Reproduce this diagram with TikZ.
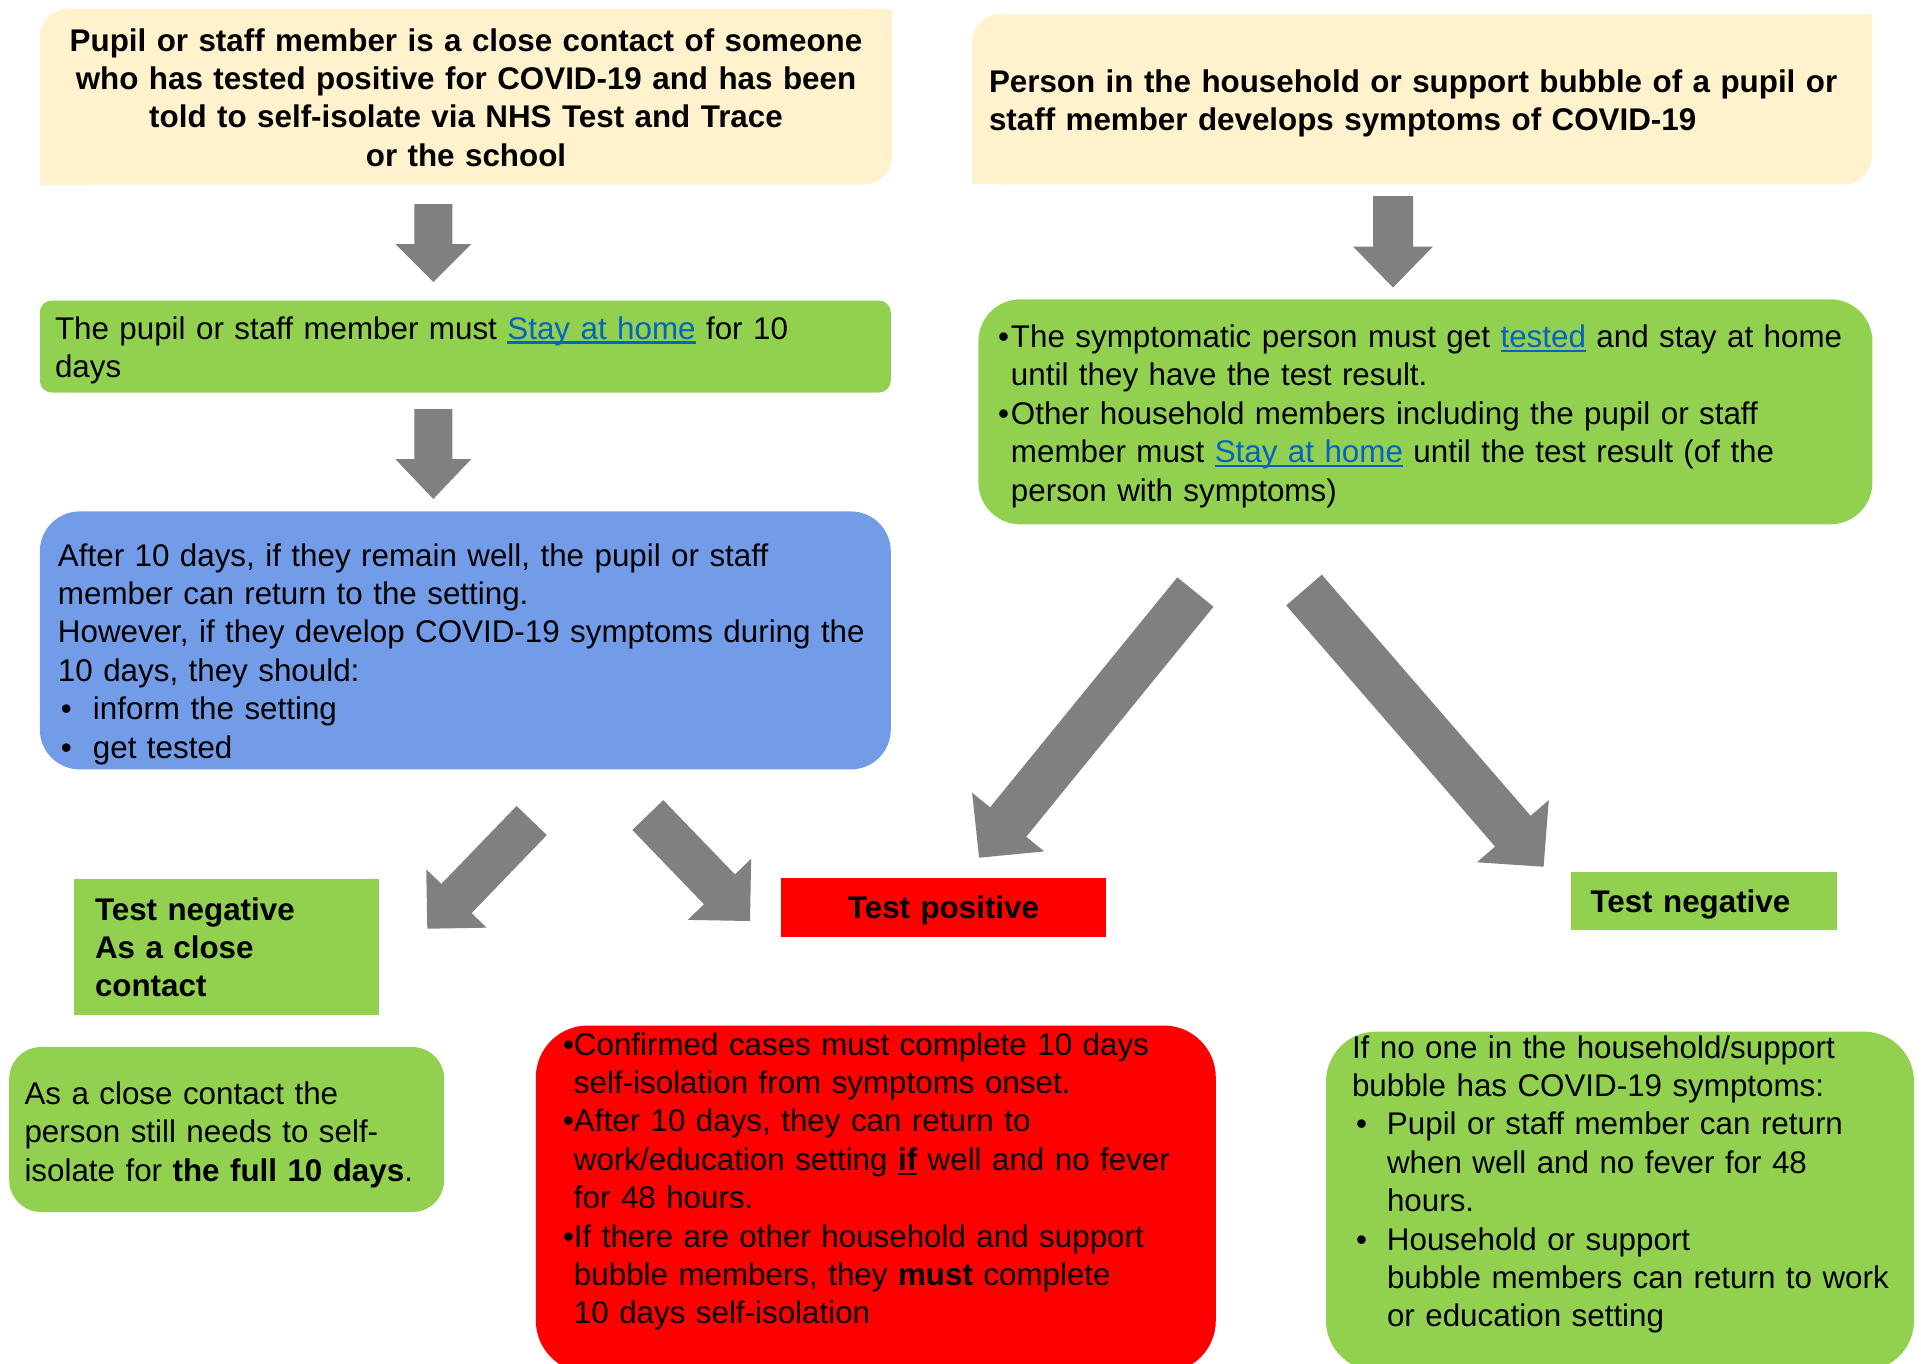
\documentclass[tikz,border=0pt]{standalone}
\usepackage{fontspec}
\setmainfont{Liberation Sans}
\usetikzlibrary{calc}
\definecolor{cream}{RGB}{255,242,204}
\definecolor{leafgreen}{RGB}{146,208,80}
\definecolor{skyblue}{RGB}{114,155,232}
\definecolor{alertred}{RGB}{255,0,0}
\definecolor{arrowgray}{RGB}{128,128,128}
\definecolor{linkblue}{RGB}{5,99,193}
\newcommand{\ulword}[1]{\setbox0=\hbox{#1}\rlap{\rule[-0.45mm]{\wd0}{0.22mm}}\box0}
\newcommand{\weblink}[1]{{\color{linkblue}\ulword{#1}}}
\newcommand{\blockarrow}[5]{%
  \fill[arrowgray] let \p1=($(#2)-(#1)$), \n1={atan2(\y1,\x1)} in
    ($(#1)+({\n1+90}:#3)$) -- ($(#2)+({\n1}:-#5)+({\n1+90}:#3)$)
    -- ($(#2)+({\n1}:-#5)+({\n1+90}:#4)$) -- (#2)
    -- ($(#2)+({\n1}:-#5)+({\n1-90}:#4)$) -- ($(#2)+({\n1}:-#5)+({\n1-90}:#3)$)
    -- ($(#1)+({\n1-90}:#3)$) -- cycle;}

\begin{document}
\begin{tikzpicture}[x=0.1mm,y=-0.1mm]
\tikzstyle{every node}+=[inner sep=0pt, outer sep=0pt]
\tikzstyle{panel}=[anchor=north west, rectangle]
\tikzstyle{txt}=[anchor=base west, text width=100mm, align=left, font=\fontsize{8.92}{10.93}\selectfont]
\tikzstyle{boldtxt}=[txt, font=\fontsize{8.92}{10.93}\selectfont\bfseries]
\clip (0,0) rectangle (1921,1363);
\fill[white] (0,0) rectangle (1921,1363);
\draw (40,8.5) node[panel, fill=cream, rounded corners=2.8mm, minimum width=85.2mm, minimum height=17.6mm] (contactbox) {};
\fill[cream] (contactbox.north east) rectangle ++(-50,50);
\fill[cream] (contactbox.south west) rectangle ++(50,-50);
\draw (972,14.3) node[panel, fill=cream, rounded corners=2.8mm, minimum width=90mm, minimum height=17mm] (householdbox) {};
\fill[cream] (householdbox.north east) rectangle ++(-50,50);
\fill[cream] (householdbox.south west) rectangle ++(50,-50);
\draw (39.8,300.5) node[panel, fill=leafgreen, rounded corners=1.2mm, minimum width=85.1mm, minimum height=9.2mm] (stayhomebox) {};
\draw (39.8,511.4) node[panel, fill=skyblue, rounded corners=4mm, minimum width=85.1mm, minimum height=25.8mm] (afterbox) {};
\draw (978.4,299.3) node[panel, fill=leafgreen, rounded corners=4.2mm, minimum width=89.4mm, minimum height=22.5mm] (symptombox) {};
\draw (74,879) node[panel, fill=leafgreen, minimum width=30.5mm, minimum height=13.6mm] (closenegbox) {};
\draw (781,878) node[panel, fill=alertred, minimum width=32.5mm, minimum height=5.9mm] (positivebox) {};
\draw (1570.5,872) node[panel, fill=leafgreen, minimum width=26.6mm, minimum height=5.75mm] (negativebox) {};
\draw (9.2,1047) node[panel, fill=leafgreen, rounded corners=3.2mm, minimum width=43.5mm, minimum height=16.5mm] (fulldaysbox) {};
\draw (535.8,1025.5) node[panel, fill=alertred, rounded corners=5.2mm, minimum width=68mm, minimum height=34.7mm] (confirmedbox) {};
\draw (1326,1031.6) node[panel, fill=leafgreen, rounded corners=5mm, minimum width=58.8mm, minimum height=33.9mm] (noonebox) {};
\draw (466,51) node[boldtxt, anchor=base, text width=90mm, align=center] (contacttext) {Pupil or staff member is a close contact of someone\\who has tested positive for COVID-19 and has been\\told to self-isolate via NHS Test and Trace\\or the school};
\draw (989,92) node[boldtxt] (householdtext) {Person in the household or support bubble of a pupil or\\staff member develops symptoms of COVID-19};
\draw (55,339) node[txt] (stayhometext) {The pupil or staff member must \weblink{Stay at home} for 10\\days};
\draw (58,566) node[txt] (aftertext) {After 10 days, if they remain well, the pupil or staff\\member can return to the setting.\\However, if they develop COVID-19 symptoms during the\\10 days, they should:\\\makebox[3.5mm][l]{\hspace{0.3mm}\textbullet}inform the setting\\\makebox[3.5mm][l]{\hspace{0.3mm}\textbullet}get tested};
\draw (998,347.5) node[txt] (symptomtext) {\textbullet\hspace{0.2mm}The symptomatic person must get \weblink{tested} and stay at home\\\hphantom{\textbullet}\hspace*{0.2mm}until they have the test result.\\\textbullet\hspace{0.2mm}Other household members including the pupil or staff\\\hphantom{\textbullet}\hspace*{0.2mm}member must \weblink{Stay at home} until the test result (of the\\\hphantom{\textbullet}\hspace*{0.2mm}person with symptoms)};
\draw (95,920) node[boldtxt] (closenegtext) {Test negative\\As a close\\contact};
\draw (943.5,918) node[boldtxt, anchor=base, text width=30mm, align=center] (positivetext) {Test positive};
\draw (1590.5,912.5) node[boldtxt] (negativetext) {Test negative};
\draw (24.5,1104.5) node[txt] (fulldaystext) {As a close contact the\\person still needs to self-\\isolate for \textbf{the full 10 days}.};
\draw (563,1055) node[txt] (confirmedtext) {\textbullet Confirmed cases must complete 10 days\\\hphantom{\textbullet}self-isolation from symptoms onset.\\\textbullet After 10 days, they can return to\\\hphantom{\textbullet}work/education setting \textbf{\ulword{if}} well and no fever\\\hphantom{\textbullet}for 48 hours.\\\textbullet If there are other household and support\\\hphantom{\textbullet}bubble members, they \textbf{must} complete\\\hphantom{\textbullet}10 days self-isolation};
\draw (1352,1058) node[txt] (noonetext) {If no one in the household/support\\bubble has COVID-19 symptoms:\\\makebox[3.5mm][l]{\hspace{0.4mm}\textbullet}Pupil or staff member can return\\\hspace*{3.5mm}when well and no fever for 48\\\hspace*{3.5mm}hours.\\\makebox[3.5mm][l]{\hspace{0.4mm}\textbullet}Household or support\\\hspace*{3.5mm}bubble members can return to work\\\hspace*{3.5mm}or education setting};
\coordinate (contactfrom) at (433.3,204);
\coordinate (contactto) at (433.3,282);
\coordinate (isolatefrom) at (433.3,409);
\coordinate (isolateto) at (433.3,499);
\coordinate (householdfrom) at (1393,196);
\coordinate (householdto) at (1393,287.5);
\coordinate (negfrom) at (531.7,820.5);
\coordinate (negto) at (427.3,928.7);
\coordinate (posfrom) at (647.8,815);
\coordinate (posto) at (750,921);
\coordinate (hposfrom) at (1195.4,592);
\coordinate (hposto) at (979.1,857.7);
\coordinate (hnegfrom) at (1304,590);
\coordinate (hnegto) at (1543.6,866.7);
\blockarrow{contactfrom}{contactto}{1.9mm}{3.8mm}{3.8mm}
\blockarrow{isolatefrom}{isolateto}{1.9mm}{3.8mm}{4mm}
\blockarrow{householdfrom}{householdto}{2mm}{4mm}{4.1mm}
\blockarrow{negfrom}{negto}{2.1mm}{4.2mm}{4.2mm}
\blockarrow{posfrom}{posto}{2.15mm}{4.4mm}{4.4mm}
\blockarrow{hposfrom}{hposto}{2.33mm}{4.65mm}{4.6mm}
\blockarrow{hnegfrom}{hnegto}{2.35mm}{4.75mm}{4.7mm}
\end{tikzpicture}
\end{document}
